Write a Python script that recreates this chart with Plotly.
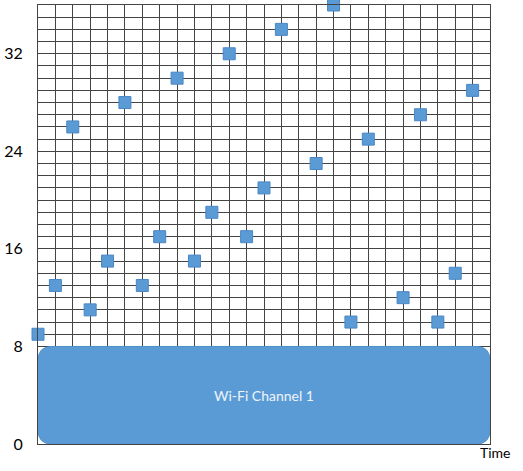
import plotly.graph_objects as go

# ---- data ----
time_x = [0, 1, 2, 3, 4, 5, 6, 7, 8, 9, 10, 11, 12, 13, 14, 16, 17, 18, 19, 21, 22, 23, 24, 25]
channel_y = [9, 13, 26, 11, 15, 28, 13, 17, 30, 15, 19, 32, 17, 21, 34, 23, 36, 10, 25, 12, 27, 10, 14, 29]
y_tick_vals = [0, 8, 16, 24, 32]
y_tick_text = ["0", "8", "16", "24", "32"]
x_range = [0, 26]
y_range = [0, 36]
band_x = [0, 26]
band_y = [0, 8]
band_label = "Wi-Fi Channel 1"
x_title = "Time"

# ---- layout geometry ----
W, H = 523, 471
ML, MR, MT, MB = 38, 33, 5, 27
plot_w = W - ML - MR
plot_h = H - MT - MB
grid_col = "#444444"
blue = "#5B9BD5"
font_fam = "Lato, 'Open Sans', sans-serif"

fig = go.Figure()
fig.add_trace(go.Scatter(
    x=time_x, y=channel_y, mode="markers",
    marker=dict(symbol="square", size=12, color=blue,
                line=dict(color="#4A86C5", width=1)),
    cliponaxis=False, showlegend=False, hoverinfo="skip",
))

# rounded rectangle for the channel band
r_px = 14
rx = r_px * (x_range[1] - x_range[0]) / plot_w
ry = r_px * (y_range[1] - y_range[0]) / plot_h
x0, x1 = band_x
y0, y1 = band_y
path = (f"M {x0+rx},{y0} L {x1-rx},{y0} Q {x1},{y0} {x1},{y0+ry} "
        f"L {x1},{y1-ry} Q {x1},{y1} {x1-rx},{y1} "
        f"L {x0+rx},{y1} Q {x0},{y1} {x0},{y1-ry} "
        f"L {x0},{y0+ry} Q {x0},{y0} {x0+rx},{y0} Z")
fig.add_shape(type="path", path=path, xref="x", yref="y",
              fillcolor=blue, line=dict(color="#5592CC", width=1), layer="above")

fig.add_annotation(x=(x0 + x1) / 2, y=(y0 + y1) / 2, xref="x", yref="y",
                   text=band_label, showarrow=False,
                   font=dict(family=font_fam, size=14, color="#EEF4FB"))

fig.add_annotation(xref="paper", yref="paper",
                   x=1 + 6 / plot_w, y=-8 / plot_h,
                   xanchor="center", yanchor="middle",
                   text=x_title, showarrow=False,
                   font=dict(family=font_fam, size=14, color="#000000"))

fig.update_xaxes(range=x_range, dtick=1, tick0=0, showgrid=True,
                 gridcolor=grid_col, gridwidth=1, showticklabels=False,
                 zeroline=False, showline=True, linecolor=grid_col,
                 linewidth=1, mirror=True, ticks="")
fig.update_yaxes(range=y_range, tickmode="array", tickvals=y_tick_vals,
                 ticktext=y_tick_text, showgrid=True, gridcolor=grid_col,
                 gridwidth=1, zeroline=False, showline=True, linecolor=grid_col,
                 linewidth=1, mirror=True, ticks="", ticklabelstandoff=11,
                 tickfont=dict(family=font_fam, size=16, color="#000000"),
                 minor=dict(dtick=1, tick0=0, showgrid=True, gridcolor=grid_col,
                            gridwidth=1))

fig.update_layout(width=W, height=H,
                  margin=dict(l=ML, r=MR, t=MT, b=MB, pad=0),
                  plot_bgcolor="white", paper_bgcolor="white",
                  showlegend=False)

fig.write_html("out.html")
